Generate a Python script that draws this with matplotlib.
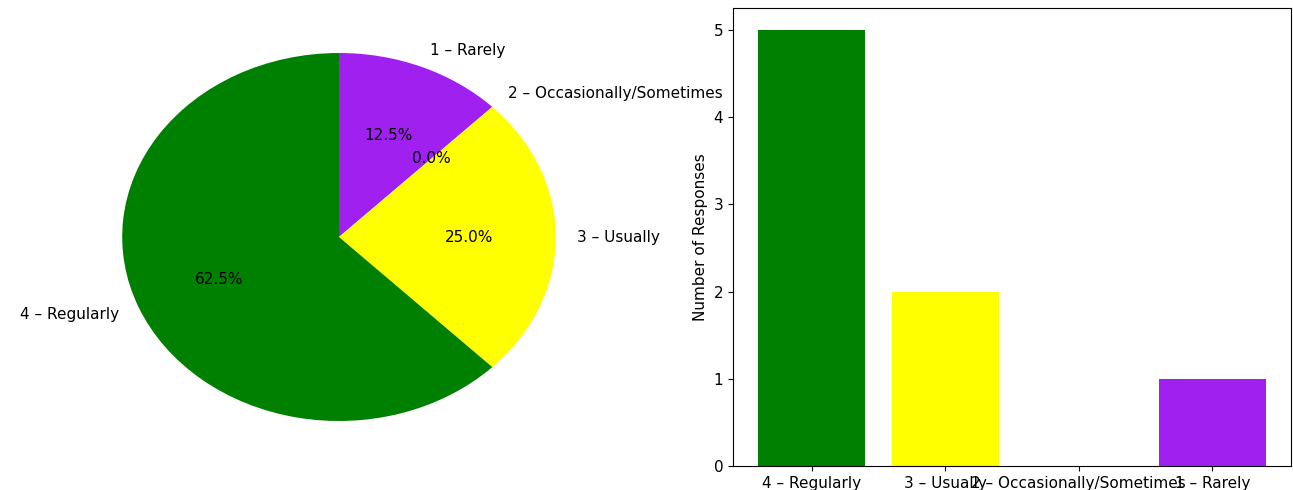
import matplotlib
matplotlib.use("Agg")
import matplotlib.pyplot as plt

# Data
pie_labels = ["1 – Rarely", "2 – Occasionally/Sometimes", "3 – Usually", "4 – Regularly"]
pie_counts = [1, 0, 2, 5]
pie_colors = ["#a020f0", "#ffa500", "yellow", "green"]

bar_labels = ["4 – Regularly", "3 – Usually", "2 – Occasionally/Sometimes", "1 – Rarely"]
bar_counts = [5, 2, 0, 1]
bar_colors = ["green", "yellow", "orange", "#a020f0"]

plt.rcParams["font.size"] = 11

W, H = 1293, 490
fig = plt.figure(figsize=(W / 100, H / 100), dpi=100)

ax1 = fig.add_axes([68 / W, (H - 467) / H, 542 / W, 460 / H])
ax1.pie(pie_counts, labels=pie_labels, colors=pie_colors, autopct="%1.1f%%",
        startangle=90, counterclock=False)
ax1.set_aspect("auto")
ax1.set_xlim(-1.25, 1.25)
ax1.set_ylim(-1.25, 1.25)

ax2 = fig.add_axes([733 / W, (H - 466) / H, 558 / W, 458 / H])
ax2.bar(bar_labels, bar_counts, color=bar_colors)
ax2.set_ylabel("Number of Responses")

fig.savefig("out.png", dpi=100)
